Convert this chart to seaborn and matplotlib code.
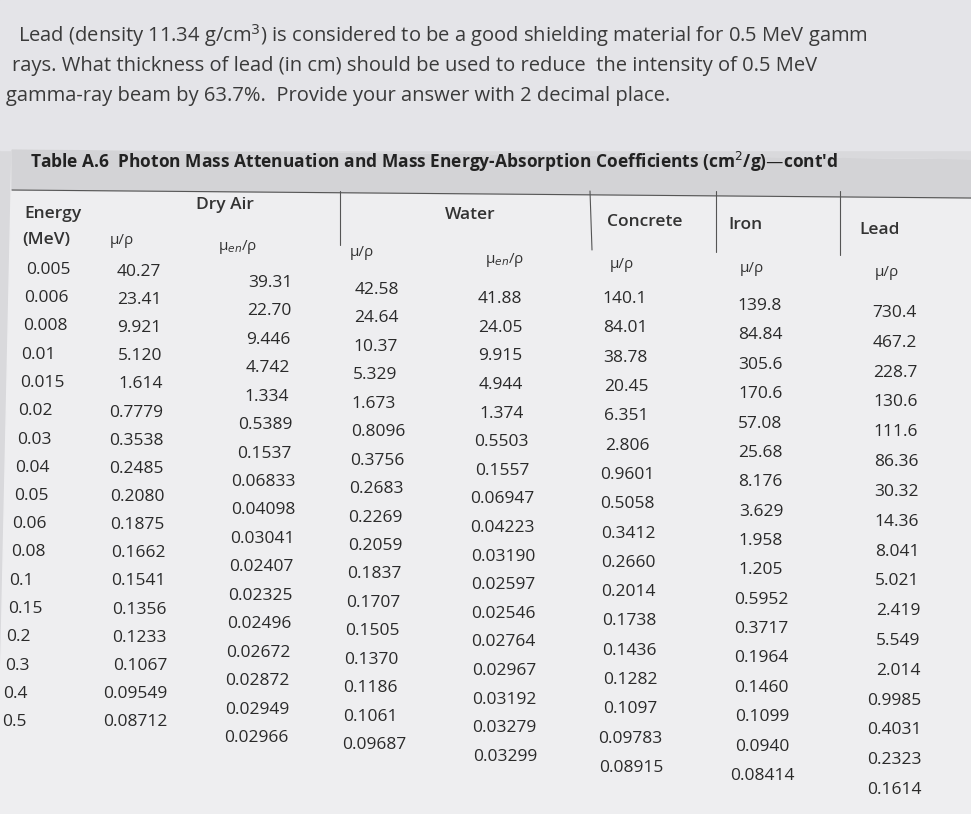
import matplotlib

matplotlib.use("Agg")

import matplotlib.pyplot as plt
import numpy as np
import seaborn as sns

question = [
    "Lead (density 11.34 g/cm$^3$) is considered to be a good shielding material for 0.5 MeV gamm",
    "rays. What thickness of lead (in cm) should be used to reduce  the intensity of 0.5 MeV",
    "gamma-ray beam by 63.7%.  Provide your answer with 2 decimal place.",
]
title = "Table A.6  Photon Mass Attenuation and Mass Energy-Absorption Coefficients (cm$^2$/g)\u2014cont'd"

energy = ["0.005", "0.006", "0.008", "0.01", "0.015", "0.02", "0.03", "0.04", "0.05",
          "0.06", "0.08", "0.1", "0.15", "0.2", "0.3", "0.4", "0.5"]
air_mu = ["40.27", "23.41", "9.921", "5.120", "1.614", "0.7779", "0.3538", "0.2485", "0.2080",
          "0.1875", "0.1662", "0.1541", "0.1356", "0.1233", "0.1067", "0.09549", "0.08712"]
air_muen = ["39.31", "22.70", "9.446", "4.742", "1.334", "0.5389", "0.1537", "0.06833", "0.04098",
            "0.03041", "0.02407", "0.02325", "0.02496", "0.02672", "0.02872", "0.02949", "0.02966"]
water_mu = ["42.58", "24.64", "10.37", "5.329", "1.673", "0.8096", "0.3756", "0.2683", "0.2269",
            "0.2059", "0.1837", "0.1707", "0.1505", "0.1370", "0.1186", "0.1061", "0.09687"]
water_muen = ["41.88", "24.05", "9.915", "4.944", "1.374", "0.5503", "0.1557", "0.06947", "0.04223",
              "0.03190", "0.02597", "0.02546", "0.02764", "0.02967", "0.03192", "0.03279", "0.03299"]
concrete_mu = ["140.1", "84.01", "38.78", "20.45", "6.351", "2.806", "0.9601", "0.5058", "0.3412",
               "0.2660", "0.2014", "0.1738", "0.1436", "0.1282", "0.1097", "0.09783", "0.08915"]
iron_mu = ["139.8", "84.84", "305.6", "170.6", "57.08", "25.68", "8.176", "3.629", "1.958",
           "1.205", "0.5952", "0.3717", "0.1964", "0.1460", "0.1099", "0.0940", "0.08414"]
lead_mu = ["730.4", "467.2", "228.7", "130.6", "111.6", "86.36", "30.32", "14.36", "8.041",
           "5.021", "2.419", "5.549", "2.014", "0.9985", "0.4031", "0.2323", "0.1614"]

columns = [energy, air_mu, air_muen, water_mu, water_muen, concrete_mu, iron_mu, lead_mu]
# (x first row, x last row, y first row, y last row, alignment) - mimics the photo's skew
layout = [
    (26, 2, 270, 722, "left"),
    (161, 168, 272, 722, "right"),
    (270, 256, 283, 738, "center"),
    (355, 342, 290, 745, "left"),
    (500, 505, 299, 757, "center"),
    (625, 631, 299, 768, "center"),
    (760, 762, 306, 776, "center"),
    (917, 922, 313, 790, "right"),
]

sns.set_theme(style="white")
plt.rcParams["font.family"] = ["Open Sans", "DejaVu Sans"]

fig = plt.figure(figsize=(9.71, 8.14), dpi=100)
fig.patch.set_facecolor("#d9d9dc")
ax = fig.add_axes([0, 0, 1, 1])
ax.set_xlim(0, 971)
ax.set_ylim(814, 0)
ax.axis("off")

ax.add_patch(plt.Rectangle((0, 0), 971, 150, color="#e4e4e8", zorder=0))
ax.add_patch(plt.Polygon([(12, 150), (971, 160), (971, 814), (0, 814), (0, 700)],
                         color="#eeeef0", zorder=0))
ax.add_patch(plt.Polygon([(12, 150), (971, 160), (971, 198), (12, 190)],
                         color="#d3d3d6", zorder=0))

for i, line in enumerate(question):
    ax.text(18 - 6 * i, 36 + 30 * i, line, fontsize=14.5, color="#3a3a3a", va="center")

ax.text(30, 162, title, fontsize=12.5, color="#222222", va="center", fontweight="bold")

headers = [("Energy", 24, 214), ("(MeV)", 22, 240), ("Dry Air", 225, 205),
           ("Water", 470, 215), ("Concrete", 645, 222), ("Iron", 745, 225), ("Lead", 880, 230)]
for text, x, y in headers:
    ax.text(x, y, text, fontsize=12.5, color="#333333", va="center",
            ha="left" if x < 100 else "center", fontweight="semibold")
subs = [("\u03bc/\u03c1", 110, 240), ("\u03bc$_{en}$/\u03c1", 218, 247), ("\u03bc/\u03c1", 350, 253),
        ("\u03bc$_{en}$/\u03c1", 485, 260), ("\u03bc/\u03c1", 610, 265), ("\u03bc/\u03c1", 740, 268),
        ("\u03bc/\u03c1", 875, 272)]
for text, x, y in subs:
    ax.text(x, y, text, fontsize=11, color="#333333", va="center")

for x0, x1, y1 in [(340, 340, 245), (590, 592, 250), (716, 716, 252), (840, 840, 255)]:
    ax.plot([x0, x1], [191, y1], color="#555555", lw=0.8)
ax.plot([12, 971], [190, 198], color="#555555", lw=0.8)

for values, (xa, xb, ya, yb, ha) in zip(columns, layout):
    n = len(values)
    xs = np.linspace(xa, xb, n)
    ys = np.linspace(ya, yb, n)
    for v, x, y in zip(values, xs, ys):
        ax.text(x, y, v, fontsize=12.5, color="#2a2a2a", ha=ha, va="center")

fig.savefig("out.png", dpi=100)
plt.close(fig)
